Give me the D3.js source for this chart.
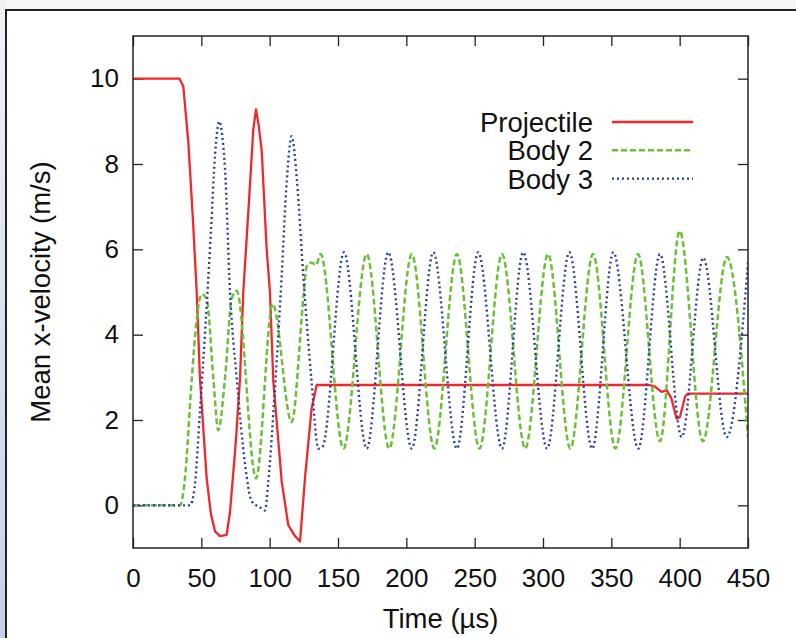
<!DOCTYPE html>
<html>
<head>
<meta charset="utf-8">
<script src="https://cdn.jsdelivr.net/npm/d3@7"></script>
<style>
  body { margin: 0; background: #fff; }
  text { font-family: "Liberation Sans", Arial, sans-serif; fill: #111; }
</style>
</head>
<body>
<div id="chart"></div>
<script>
// data (time in µs, velocity in m/s)
var projTime = [0, 34, 36.8, 40.5, 44.1, 46.6, 49, 53.9, 57, 60, 63.7, 68.5, 71, 75, 78.3, 80.7, 85, 88, 90, 92, 94.2, 97.8, 100.2, 102.7, 108.8, 113.6, 118, 122.2, 126, 130.7, 134.4, 378, 382, 386.8, 390.5, 394, 397.8, 400.2, 404, 406, 450];
var projVel  = [10, 10, 9.82, 8.5, 6.55, 5.0, 2.97, 0.63, -0.2, -0.61, -0.72, -0.69, -0.15, 1.4, 2.97, 5.0, 7.2, 8.8, 9.28, 8.9, 8.3, 6.0, 5.0, 2.9, 0.56, -0.46, -0.7, -0.85, 0.7, 2.27, 2.82, 2.82, 2.78, 2.66, 2.7, 2.5, 2.03, 2.07, 2.55, 2.62, 2.62];

var body2Time = [0, 34.4, 38, 43, 46.6, 50.3, 53.9, 58.8, 62.4, 67.3, 72.2, 75.9, 90, 102.2, 116.1, 124.6, 127.1, 130.7, 133.9, 137.3, 154, 171, 187.5, 204, 220.5, 237, 253.5, 270, 287, 303.7, 320, 336.6, 353, 369.5, 385.6, 400, 417, 434.6, 450];
var body2Vel  = [0, 0, 0.63, 2.97, 4.37, 4.95, 4.84, 2.97, 1.76, 2.97, 4.84, 5.03, 0.63, 4.72, 1.95, 4.84, 5.6, 5.69, 5.63, 5.89, 1.33, 5.89, 1.33, 5.89, 1.33, 5.89, 1.33, 5.89, 1.33, 5.89, 1.33, 5.89, 1.33, 5.89, 1.5, 6.43, 1.5, 5.82, 1.6];

var body3Time = [0, 41.7, 45, 49, 53, 57, 60, 63.2, 65.5, 67.3, 71, 75.9, 82, 86.8, 93, 96.6, 99, 104, 108.8, 112.5, 116.1, 120, 124.6, 130.7, 135.6, 138.8, 154.4, 171, 186.8, 204, 219.7, 237, 252.6, 270, 285.5, 303, 319.3, 336, 351.5, 369.7, 385.6, 401.5, 417.3, 434.4, 450];
var body3Vel  = [0, 0, 0.4, 2.2, 4.2, 6.4, 8.2, 9.0, 8.6, 7.9, 5.0, 2.97, 0.96, 0.1, -0.05, -0.12, 0.56, 2.8, 5.38, 7.6, 8.65, 7.6, 5.38, 2.89, 1.33, 1.38, 5.93, 1.33, 5.93, 1.33, 5.93, 1.33, 5.93, 1.33, 5.93, 1.33, 5.93, 1.33, 5.93, 1.33, 5.89, 1.6, 5.8, 1.6, 5.7];

var xTicks = [0, 50, 100, 150, 200, 250, 300, 350, 400, 450];
var yTicks = [0, 2, 4, 6, 8, 10];
var seriesNames = ["Projectile", "Body 2", "Body 3"];

var svgWidth = 796;
var svgHeight = 638;
var margin = { top: 36, right: 48, bottom: 90, left: 133 };
var width = svgWidth - margin.left - margin.right;
var height = svgHeight - margin.top - margin.bottom;
var fontSize = 26;
var titleSize = 27.5;

var svg = d3.select("#chart")
  .append("svg")
  .attr("width", svgWidth)
  .attr("height", svgHeight);

// slide-like background bits around the outer border
var grad = svg.append("defs").append("linearGradient")
  .attr("id", "side")
  .attr("x1", 0).attr("y1", 0).attr("x2", 0).attr("y2", 1);
grad.append("stop").attr("offset", "0%").attr("stop-color", "#eef2f7");
grad.append("stop").attr("offset", "100%").attr("stop-color", "#c4d2e6");
svg.append("rect").attr("x", 0).attr("y", 0).attr("width", svgWidth).attr("height", 10).attr("fill", "#f5f6f8");
svg.append("rect").attr("x", 0).attr("y", 0).attr("width", 6).attr("height", svgHeight).attr("fill", "url(#side)");
svg.append("rect")
  .attr("x", 6).attr("y", 10)
  .attr("width", svgWidth + 10).attr("height", svgHeight + 10)
  .attr("fill", "#fff")
  .attr("stroke", "#222")
  .attr("stroke-width", 2);

var chartGroup = svg.append("g")
  .attr("transform", `translate(${margin.left}, ${margin.top})`);

var xScale = d3.scaleLinear().domain([0, 450]).range([0, width]);
var yScale = d3.scaleLinear().domain([-1, 11]).range([height, 0]);

// ticks on all four sides, pointing inward (gnuplot style)
var tickLen = 10;
function styleAxis(g) {
  g.select(".domain").remove();
  g.selectAll(".tick line").attr("stroke", "#222").attr("stroke-width", 1.3);
  g.selectAll(".tick text").attr("font-size", fontSize).attr("fill", "#111");
}
chartGroup.append("g")
  .attr("transform", `translate(0, ${height})`)
  .call(d3.axisBottom(xScale).tickValues(xTicks).tickSize(-tickLen).tickPadding(21))
  .call(styleAxis);
chartGroup.append("g")
  .call(d3.axisTop(xScale).tickValues(xTicks).tickSize(-tickLen).tickFormat(""))
  .call(styleAxis);
chartGroup.append("g")
  .call(d3.axisLeft(yScale).tickValues(yTicks).tickSize(-tickLen).tickPadding(14))
  .call(styleAxis);
chartGroup.append("g")
  .attr("transform", `translate(${width}, 0)`)
  .call(d3.axisRight(yScale).tickValues(yTicks).tickSize(-tickLen).tickFormat(""))
  .call(styleAxis);

chartGroup.append("defs").append("clipPath").attr("id", "plotclip")
  .append("rect").attr("width", width).attr("height", height);

function toPoints(ts, vs) {
  return ts.map((t, i) => [t, vs[i]]);
}

var lineLinear = d3.line()
  .x(d => xScale(d[0]))
  .y(d => yScale(d[1]));
var lineSmooth = d3.line()
  .curve(d3.curveMonotoneX)
  .x(d => xScale(d[0]))
  .y(d => yScale(d[1]));

var series = [
  { name: seriesNames[0], pts: toPoints(projTime, projVel), color: "#f0282c", dash: null, w: 2.3, line: lineLinear },
  { name: seriesNames[1], pts: toPoints(body2Time, body2Vel), color: "#6cbf3a", dash: "6,3", w: 2.5, line: lineSmooth },
  { name: seriesNames[2], pts: toPoints(body3Time, body3Vel), color: "#2b3f9e", dash: "2,3", w: 2.4, line: lineSmooth }
];

var plot = chartGroup.append("g").attr("clip-path", "url(#plotclip)");
series.forEach(function(s) {
  plot.append("path")
    .attr("d", s.line(s.pts))
    .attr("fill", "none")
    .attr("stroke", s.color)
    .attr("stroke-width", s.w)
    .attr("stroke-dasharray", s.dash)
    .attr("stroke-linejoin", "round");
});

// frame
chartGroup.append("rect")
  .attr("width", width).attr("height", height)
  .attr("fill", "none")
  .attr("stroke", "#222")
  .attr("stroke-width", 1.5);

// legend
var legend = chartGroup.append("g");
series.forEach(function(s, i) {
  var ly = 122 + i * 28.3 - margin.top;
  legend.append("text")
    .attr("x", 593 - margin.left)
    .attr("y", ly)
    .attr("dy", "0.36em")
    .attr("text-anchor", "end")
    .attr("font-size", titleSize)
    .text(s.name);
  legend.append("line")
    .attr("x1", 612 - margin.left).attr("x2", 693 - margin.left)
    .attr("y1", ly).attr("y2", ly)
    .attr("stroke", s.color)
    .attr("stroke-width", s.w)
    .attr("stroke-dasharray", s.dash);
});

// axis titles
svg.append("text")
  .attr("transform", `translate(50, ${margin.top + height / 2}) rotate(-90)`)
  .attr("text-anchor", "middle")
  .attr("font-size", titleSize)
  .text("Mean x-velocity (m/s)");
svg.append("text")
  .attr("x", margin.left + width / 2)
  .attr("y", 628)
  .attr("text-anchor", "middle")
  .attr("font-size", titleSize)
  .text("Time (µs)");
</script>
</body>
</html>
